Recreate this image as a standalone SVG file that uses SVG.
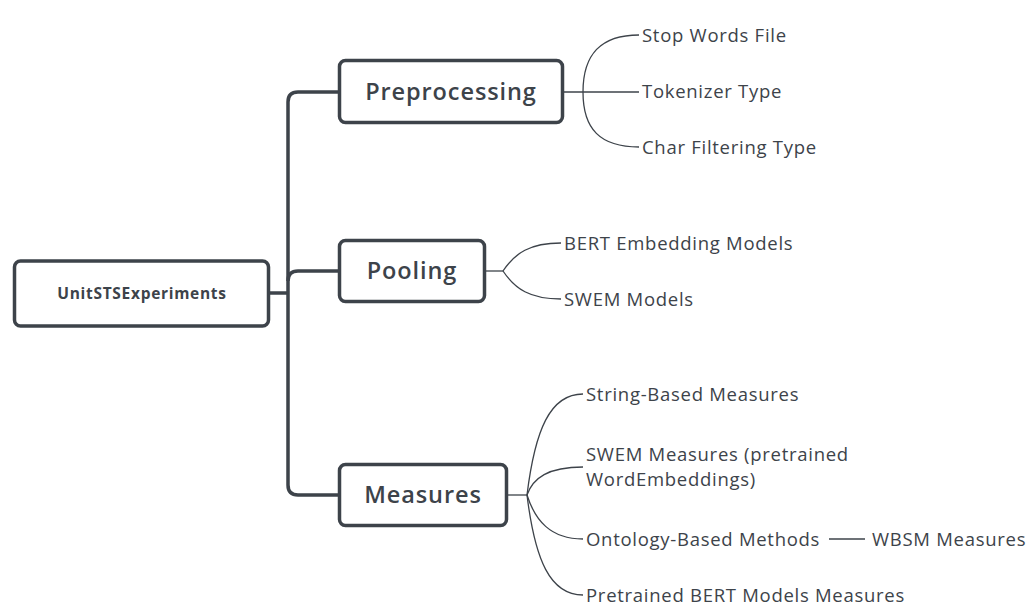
<svg xmlns="http://www.w3.org/2000/svg" width="1032" height="611" viewBox="0 0 1032 611">
<style>
.box{fill:#fff;stroke:#3d434a;stroke-width:3.5}
.trunk{fill:none;stroke:#3d434a;stroke-width:3.5}
.br{fill:none;stroke:#3d434a;stroke-width:1.3}
.t{font-family:"Open Sans","Liberation Sans",sans-serif;fill:#3d434a}
.leaf{font-size:18.5px;letter-spacing:0.72px}
.main{font-size:23.5px;font-weight:600;letter-spacing:0.9px}
.root{font-size:15.5px;font-weight:700;letter-spacing:0.7px}
</style>
<rect width="1032" height="611" fill="#fff"/>
<g id="connectors">
<path class="trunk" d="M269,293 H288"/>
<path class="trunk" d="M339,92 H298 Q288,92 288,102 V485 Q288,495 298,495 H339"/>
<path class="trunk" d="M288,281 Q288,271 298,271 H339"/>
<path class="br" d="M563,92 H639"/>
<path class="br" d="M583,92 C583,55 600,35 639,35"/>
<path class="br" d="M583,92 C583,129 600,147 639,147"/>
<path class="br" d="M485,271 H503"/>
<path class="br" d="M503,271 C515,253 530,243 561,243"/>
<path class="br" d="M503,271 C515,289 530,299 561,299"/>
<path class="br" d="M507,495 H527"/>
<path class="br" d="M527,495 C535,430 550,394 583,394"/>
<path class="br" d="M527,495 C533,478 548,467 583,467"/>
<path class="br" d="M527,495 C535,520 550,539 583,539"/>
<path class="br" d="M527,495 C535,560 550,595 583,595"/>
<path class="br" d="M829,539 H865"/>
</g>
<g id="root"><rect class="box" x="14.5" y="261" width="254" height="65" rx="6"/><text class="t root" x="142" y="299" text-anchor="middle">UnitSTSExperiments</text></g>
<g id="preprocessing"><rect class="box" x="339.5" y="60.5" width="223" height="62" rx="6"/><text class="t main" x="451" y="100" text-anchor="middle">Preprocessing</text></g>
<g id="pooling"><rect class="box" x="339.5" y="240.5" width="145" height="61" rx="6"/><text class="t main" x="412" y="279" text-anchor="middle">Pooling</text></g>
<g id="measures"><rect class="box" x="339.5" y="464.5" width="167" height="61" rx="6"/><text class="t main" x="423" y="503" text-anchor="middle">Measures</text></g>
<g id="stopwords"><text class="t leaf" x="642" y="42">Stop Words File</text></g>
<g id="tokenizer"><text class="t leaf" x="642" y="98">Tokenizer Type</text></g>
<g id="charfilter"><text class="t leaf" x="642" y="154">Char Filtering Type</text></g>
<g id="bert"><text class="t leaf" x="564" y="250">BERT Embedding Models</text></g>
<g id="swem"><text class="t leaf" x="564" y="306">SWEM Models</text></g>
<g id="string"><text class="t leaf" x="586" y="401">String-Based Measures</text></g>
<g id="swemm"><text class="t leaf" x="586" y="461">SWEM Measures (pretrained</text><text class="t leaf" x="586" y="486">WordEmbeddings)</text></g>
<g id="onto"><text class="t leaf" x="586" y="546">Ontology-Based Methods</text></g>
<g id="wbsm"><text class="t leaf" x="872" y="546">WBSM Measures</text></g>
<g id="pbert"><text class="t leaf" x="586" y="602">Pretrained BERT Models Measures</text></g>
</svg>
